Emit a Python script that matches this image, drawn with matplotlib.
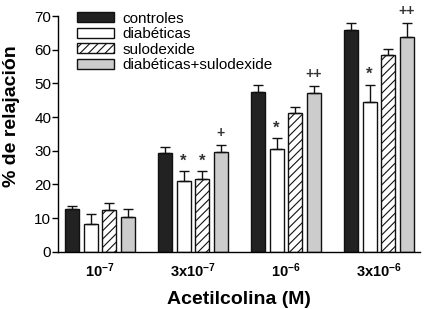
import numpy as np
import matplotlib.pyplot as plt

# datos
dosis = [r'$\mathbf{10^{-7}}$', r'$\mathbf{3x10^{-7}}$', r'$\mathbf{10^{-6}}$', r'$\mathbf{3x10^{-6}}$']
series = ['controles', 'diabéticas', 'sulodexide', 'diabéticas+sulodexide']
controles = [12.8, 29.3, 47.4, 65.9]
controles_err = [0.7, 1.9, 2.2, 1.9]
diabeticas = [8.3, 21.0, 30.5, 44.4]
diabeticas_err = [2.9, 2.9, 3.2, 5.2]
sulodexide = [12.4, 21.6, 41.1, 58.4]
sulodexide_err = [2.0, 2.3, 2.0, 1.7]
diab_sulo = [10.3, 29.5, 47.1, 63.7]
diab_sulo_err = [2.4, 2.1, 2.2, 4.1]
signos = [['', '', '', ''], ['', '*', '*', '+'], ['', '*', '', '++'], ['', '*', '', '++']]

valores = [controles, diabeticas, sulodexide, diab_sulo]
errores = [controles_err, diabeticas_err, sulodexide_err, diab_sulo_err]
colores = ['#222222', 'white', 'white', '#cccccc']
tramas = [None, None, '////', None]

plt.rcParams['font.family'] = ['Liberation Sans', 'DejaVu Sans']
plt.rcParams['mathtext.fontset'] = 'custom'
plt.rcParams['mathtext.rm'] = 'Liberation Sans'
plt.rcParams['mathtext.bf'] = 'Liberation Sans:bold'
plt.rcParams['hatch.color'] = '#444444'
plt.rcParams['hatch.linewidth'] = 0.8

fig = plt.figure(figsize=(4.24, 3.09), dpi=100)
ax = fig.add_axes([0.137, 0.185, 0.853, 0.763])

x = np.arange(4)
w = 0.15
paso = 0.2
for i in range(4):
    pos = x + (i - 1.5) * paso
    ax.bar(pos, valores[i], w, color=colores[i], edgecolor='#111111', linewidth=1,
           hatch=tramas[i], label=series[i])
    ax.errorbar(pos, valores[i], yerr=[np.zeros(4), errores[i]], fmt='none',
                ecolor='#111111', elinewidth=1, capsize=3.5, capthick=1)
    for j in range(4):
        s = signos[j][i]
        if s:
            if s == '*':
                ax.text(pos[j], valores[i][j] + errores[i][j] + 0.8, s, ha='center', va='bottom',
                        fontsize=12, fontweight='bold', color='#333333', clip_on=False)
            else:
                ax.text(pos[j], valores[i][j] + errores[i][j] + 1.5, s, ha='center', va='bottom',
                        fontsize=10, fontweight='bold', color='#333333', clip_on=False)

ax.set_ylim(0, 70)
ax.set_xlim(-0.45, 3.44)
ax.set_yticks(range(0, 71, 10))
ax.set_xticks(x)
ax.set_xticklabels(dosis, fontsize=10.5)
ax.tick_params(axis='x', length=0, pad=7)
ax.tick_params(axis='y', labelsize=11, length=4, width=1, pad=1)
for s in ['top', 'right']:
    ax.spines[s].set_visible(False)
for s in ['left', 'bottom']:
    ax.spines[s].set_linewidth(1)

ax.set_ylabel('% de relajación', fontsize=14, fontweight='bold')
ax.yaxis.set_label_coords(-0.105, 0.576)
ax.set_xlabel('Acetilcolina (M)', fontsize=14, fontweight='bold', labelpad=8)

ax.legend(loc='upper left', bbox_to_anchor=(0.035, 1.045), frameon=False, fontsize=11,
          handlelength=2.4, handleheight=0.65, labelspacing=0.1, handletextpad=0.6,
          borderaxespad=0)

fig.savefig('out.png', dpi=100)
